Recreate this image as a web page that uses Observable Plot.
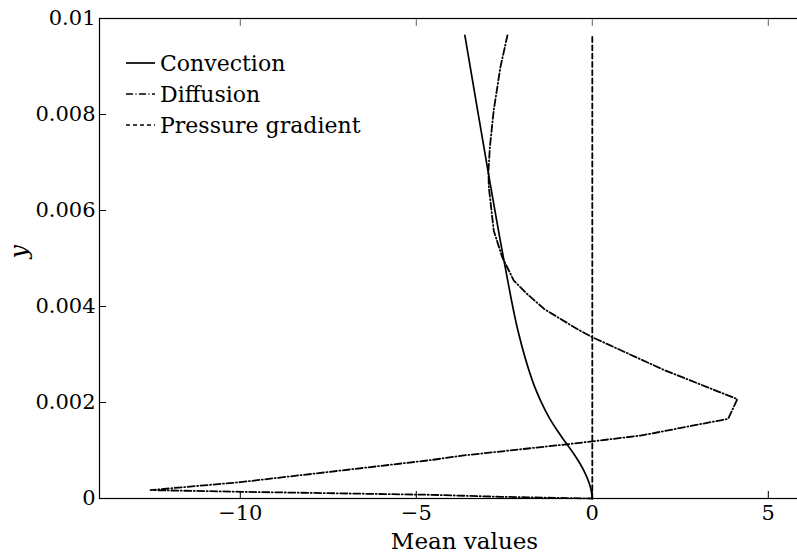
<!DOCTYPE html>
<html>
<head>
<meta charset="utf-8">
<script src="https://cdn.jsdelivr.net/npm/d3@7"></script>
<script src="https://cdn.jsdelivr.net/npm/@observablehq/plot@0.6"></script>
<style>
  body { margin: 0; background: #fff; }
  #wrap { position: relative; width: 797px; height: 557px; overflow: hidden; font-family: "DejaVu Serif", "Liberation Serif", "DejaVu Sans", sans-serif; }
  #wrap svg text { font-family: "DejaVu Serif", "Liberation Serif", "DejaVu Sans", sans-serif; }
  #legend { position: absolute; left: 0; top: 0; pointer-events: none; }
</style>
</head>
<body>
<div id="wrap"></div>
<script>
// ---- data ----
const convX = [-3.62, -2.92, -2.51, -2.11, -1.70, -1.47, -1.23, -0.99, -0.76, -0.49, -0.24, -0.05, 0];
const convY = [0.00965, 0.00664, 0.00496, 0.00349, 0.00245, 0.00204, 0.00169, 0.00141, 0.00117, 0.00089, 0.00058, 0.00023, 0];

const diffX = [-2.41, -2.61, -2.80, -2.91, -2.95, -2.94, -2.80, -2.56, -2.23, -1.85, -1.37, -0.90, -0.43, 0, 2.03, 4.12, 3.86, 1.37, 0, -0.71, -3.74, -4.59, -10, -12.55, -10, -4.59, -2.6, 0];
const diffY = [0.00965, 0.00899, 0.00809, 0.00732, 0.00683, 0.00649, 0.00558, 0.00503, 0.00454, 0.00426, 0.00395, 0.00374, 0.00353, 0.00336, 0.00268, 0.00207, 0.00166, 0.00131, 0.00119, 0.00113, 0.00089, 0.0008, 0.00034, 0.000175, 0.00014, 0.000077, 0.000035, 0];

const presX = [0, 0];
const presY = [0, 0.00965];

const xTicks = [-10, -5, 0, 5];
const yTicks = [0, 0.002, 0.004, 0.006, 0.008, 0.01];
const yTickLabels = ["0", "0.002", "0.004", "0.006", "0.008", "0.01"];
const seriesNames = ["Convection", "Diffusion", "Pressure gradient"];

const conv = convX.map((x, i) => ({x, y: convY[i]}));
const diff = diffX.map((x, i) => ({x, y: diffY[i]}));
const pres = presX.map((x, i) => ({x, y: presY[i]}));

const dashDot = "7,2.5,1,2.5";
const dashed = "5,3.3";

const chart = Plot.plot({
  width: 797,
  height: 557,
  marginLeft: 99,
  marginRight: -6,
  marginTop: 18,
  marginBottom: 59,
  style: {fontSize: "21px", color: "#000", background: "#fff", overflow: "hidden"},
  x: {domain: [-14, 6]},
  y: {domain: [0, 0.01]},
  marks: [
    Plot.frame({stroke: "#000", strokeWidth: 1.2}),
    Plot.axisX(xTicks, {anchor: "bottom", tickSize: -7, tickPadding: 14, fontSize: 21, label: null,
      tickFormat: d => d < 0 ? "\u2212" + Math.abs(d) : String(d)}),
    Plot.axisX(xTicks, {anchor: "top", tickSize: -7, tickFormat: () => "", label: null, stroke: "#666"}),
    Plot.axisY(yTicks, {anchor: "left", tickSize: -7, tickPadding: 11, fontSize: 21, label: null,
      tickFormat: (d, i) => yTickLabels[i]}),
    Plot.axisY(yTicks, {anchor: "right", tickSize: -7, tickFormat: () => "", label: null}),
    Plot.line(conv, {x: "x", y: "y", stroke: "#000", strokeWidth: 1.7, curve: "catmull-rom"}),
    Plot.line(diff, {x: "x", y: "y", stroke: "#000", strokeWidth: 1.8, strokeDasharray: dashDot}),
    Plot.line(pres, {x: "x", y: "y", stroke: "#000", strokeWidth: 1.8, strokeDasharray: dashed}),
    Plot.text(["Mean values"], {frameAnchor: "bottom", dx: 13, dy: 50, fontSize: 23, fill: "#000"}),
    Plot.text(["y"], {frameAnchor: "left", dx: -80, rotate: -90, fontSize: 24, fontStyle: "italic", fill: "#000"})
  ]
});

const wrap = document.getElementById("wrap");
wrap.appendChild(chart);

// legend overlay
const ns = "http://www.w3.org/2000/svg";
const leg = document.createElementNS(ns, "svg");
leg.setAttribute("id", "legend");
leg.setAttribute("width", 797);
leg.setAttribute("height", 557);
const styles = [
  {dash: null, w: 1.7},
  {dash: dashDot, w: 1.5},
  {dash: "4,3", w: 1.6}
];
seriesNames.forEach((name, i) => {
  const cy = 63 + i * 31;
  const ln = document.createElementNS(ns, "line");
  ln.setAttribute("x1", 126); ln.setAttribute("x2", 155);
  ln.setAttribute("y1", cy); ln.setAttribute("y2", cy);
  ln.setAttribute("stroke", "#000");
  ln.setAttribute("stroke-width", styles[i].w);
  if (styles[i].dash) ln.setAttribute("stroke-dasharray", styles[i].dash);
  leg.appendChild(ln);
  const tx = document.createElementNS(ns, "text");
  tx.setAttribute("x", 160);
  tx.setAttribute("y", cy + 8);
  tx.setAttribute("font-size", 22);
  tx.setAttribute("fill", "#000");
  tx.textContent = name;
  leg.appendChild(tx);
});
wrap.appendChild(leg);
</script>
</body>
</html>
